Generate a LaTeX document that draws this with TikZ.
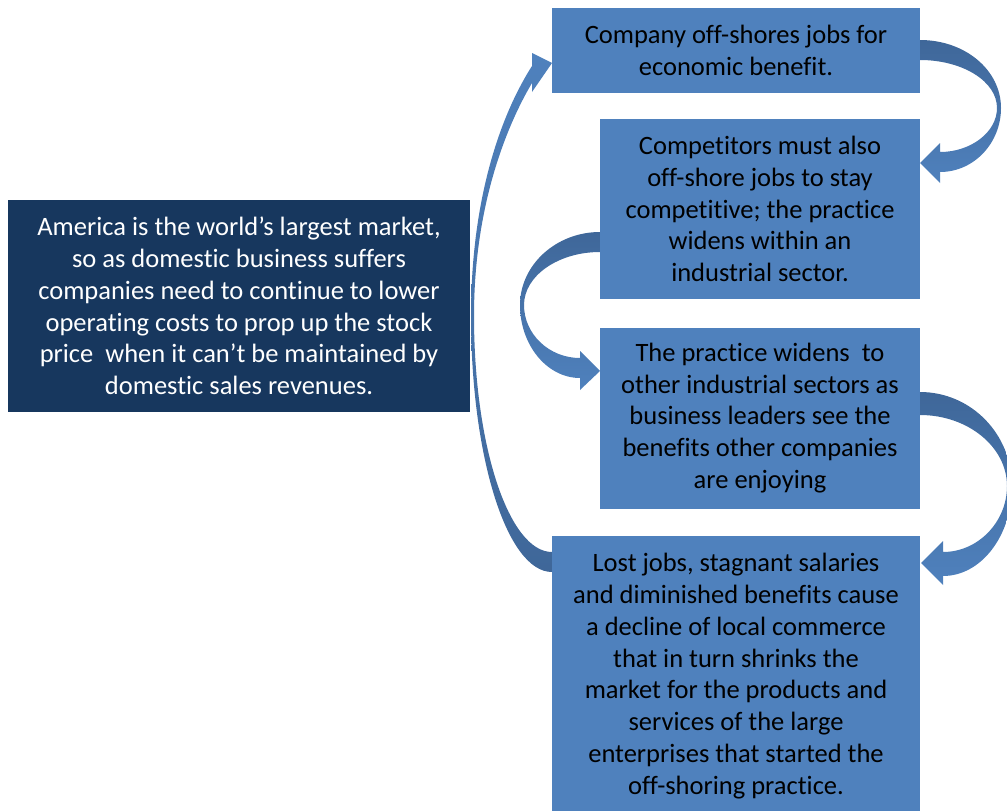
\documentclass[tikz,border=0pt]{standalone}
\usepackage{fontspec}
\setmainfont{Carlito}[Ligatures={NoCommon}]
\definecolor{boxblue}{RGB}{79,129,189}
\definecolor{arrowdark}{RGB}{63,103,153}
\definecolor{navy}{RGB}{23,55,94}
\begin{document}
\begin{tikzpicture}[x=1pt, y=-1pt,
    bluebox/.style={rectangle, fill=boxblue, inner sep=0pt, align=center,
      font=\fontsize{26.5}{31.8}\selectfont, text=black},
    navybox/.style={bluebox, fill=navy, text=white},
    bendarrow/.style={draw=none, top color=#1, bottom color=boxblue},
    bendarrow/.default=arrowdark]
      \useasboundingbox (0,0) rectangle (1007,811);
      \clip (0,0) rectangle (1007,811);
      % curved block arrows
      \shade[bendarrow] (920,40) .. controls (965,40) and (1001,70) .. (1001,108)
        .. controls (1001,143) and (974,172) .. (940,172)
        -- (940,183) -- (920,163) -- (940,143) -- (940,152)
        .. controls (971,152) and (997,132) .. (997,108)
        .. controls (997,81) and (962,60) .. (920,60) -- cycle;
      \shade[bendarrow] (600,232) .. controls (556,232) and (520,265) .. (520,305)
        .. controls (520,345) and (547,378) .. (580,378)
        -- (580,390) -- (600,371) -- (580,351) -- (580,358)
        .. controls (549,358) and (524,334) .. (524,305)
        .. controls (524,276) and (558,252) .. (600,252) -- cycle;
      \shade[bendarrow] (920,392) .. controls (971,392) and (1012,434) .. (1012,486)
        .. controls (1012,536) and (981,576) .. (943,576)
        -- (943,585) -- (921,563) -- (943,541) -- (943,552)
        .. controls (978,552) and (1007,522) .. (1007,486)
        .. controls (1007,447) and (968,415) .. (920,415) -- cycle;
      \shade[top color=boxblue, bottom color=arrowdark]
        (552,552) .. controls (509,552) and (474,446) .. (474,316)
        .. controls (474,200) and (510,120) .. (532,83)
        -- (532,92) -- (552,63) -- (532,53) -- (532,66)
        .. controls (505,108) and (471,190) .. (471,316)
        .. controls (471,457) and (507,572) .. (552,572) -- cycle;

      % boxes
      \node[navybox, minimum width=462pt, minimum height=212pt] (lft) at (239,306)
        {America is the world’s largest market,\\so as domestic business suffers\\
         companies need to continue to lower\\operating costs to prop up the stock\\
         price~ when it can’t be maintained by\\domestic sales revenues.};
      \node[bluebox, minimum width=368pt, minimum height=85pt] (b1) at (736,50.5)
        {Company off-shores jobs for\\economic benefit.};
      \node[bluebox, minimum width=320pt, minimum height=180pt] (b2) at (760,209)
        {Competitors must also\\off-shore jobs to stay\\competitive; the practice\\
         widens within an\\industrial sector.};
      \node[bluebox, minimum width=320pt, minimum height=181pt] (b3) at (760,418)
        {The practice widens~ to\\other industrial sectors as\\business leaders see the\\
         benefits other companies\\are enjoying};
      \node[bluebox, minimum width=368pt, minimum height=280pt] (b4) at (736,676)
        {Lost jobs, stagnant salaries\\and diminished benefits cause\\
         a decline of local commerce\\that in turn shrinks the\\
         market for the products and\\services of the large\\
         enterprises that started the\\off-shoring practice.};
    \end{tikzpicture}
\end{document}
